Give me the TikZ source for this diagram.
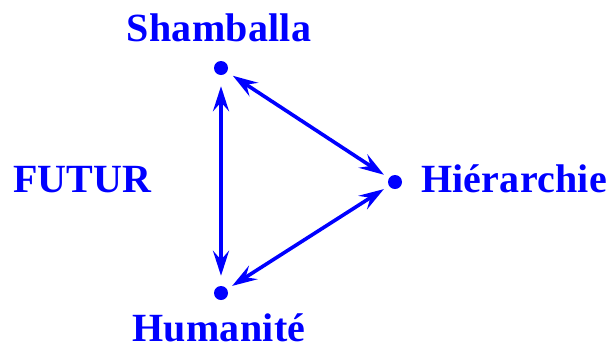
\documentclass[tikz,border=0pt]{standalone}
\usepackage{fontspec}
\setmainfont{Liberation Serif}
\newfontfamily\lblfont[LetterSpace=0.6]{Liberation Serif}
\usetikzlibrary{arrows.meta}
\definecolor{pureblue}{RGB}{0,0,255}
\begin{document}
\begin{tikzpicture}[x=1pt,y=-1pt,
  dot/.style={circle,fill=pureblue,inner sep=0pt,minimum size=14pt},
  lbl/.style={inner sep=0pt,text=pureblue,font=\lblfont\fontsize{40}{40}\selectfont\bfseries},
  link/.style={pureblue,line width=3.6pt,{Stealth[length=25pt,width=16pt,inset=9pt]}-{Stealth[length=25pt,width=16pt,inset=9pt]}}]
\useasboundingbox (0,0) rectangle (611,349);
\node[dot] (s) at (221,68) {};
\node[dot] (h) at (395,182) {};
\node[dot] (u) at (221,293) {};
\node[lbl,anchor=base] (ls) at (219,41) {Shamballa};
\node[lbl,anchor=base west] (lh) at (421,192) {Hiérarchie};
\node[lbl,anchor=base,text depth=0pt] (lu) at (219,341) {Humanité};
\node[lbl,anchor=base west] (lf) at (13,192) {FUTUR};
\draw[link,shorten <=11pt,shorten >=10pt] (s) -- (u);
\draw[link,shorten <=7pt,shorten >=6pt] (s) -- (h);
\draw[link,shorten <=6pt,shorten >=6pt] (h) -- (u);
\end{tikzpicture}
\end{document}
